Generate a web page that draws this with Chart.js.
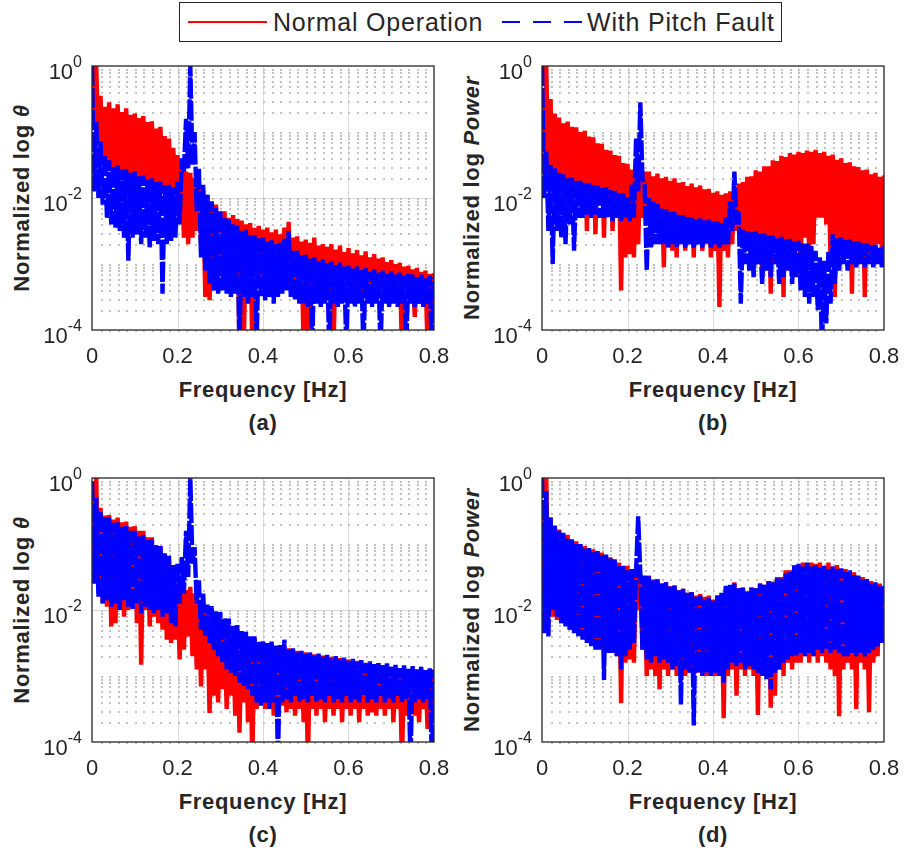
<!DOCTYPE html>
<html>
<head>
<meta charset="utf-8">
<title>Normalized spectra - normal vs pitch fault</title>
<script src="https://cdn.jsdelivr.net/npm/chart.js@4.4.1/dist/chart.umd.min.js"></script>
<style>
  body { margin: 0; background: #fff; }
  #fig {
    position: relative; width: 907px; height: 852px; background: #fff; overflow: hidden;
    font-family: "Liberation Sans", Arial, Helvetica, sans-serif; color: #262626;
  }
  #fig canvas { position: absolute; }
  .ylab, .xlab, .sub {
    position: absolute; font-weight: bold; font-size: 22px; line-height: 26px;
    white-space: nowrap; letter-spacing: 0.7px;
  }
  .ylab { transform: translate(-50%, -50%) rotate(-90deg); }
  .xlab, .sub { transform: translate(-50%, -50%); }
  #legendBox {
    position: absolute; left: 179px; top: 2px; width: 601px; height: 38px;
    border: 1.5px solid #262626; background: #fff;
  }
  .legText { position: absolute; top: 8px; font-size: 25px; line-height: 28px; letter-spacing: 0.8px; white-space: nowrap; }
  #legendLines { position: absolute; left: 0; top: 0; }
</style>
</head>
<body>
<div id="fig">
  <div id="legendBox"></div>
  <svg id="legendLines" width="907" height="44">
    <line x1="188" y1="22" x2="267" y2="22" stroke="#ff0000" stroke-width="2"/>
    <line x1="502" y1="22" x2="582" y2="22" stroke="#0000ff" stroke-width="2" stroke-dasharray="18 13"/>
  </svg>
  <div class="legText" style="left:273px">Normal Operation</div>
  <div class="legText" style="left:587px">With Pitch Fault</div>

  <div class="ylab" style="left:22px; top:198px">Normalized log <i>θ</i></div>
  <div class="ylab" style="left:472px; top:198px">Normalized log <i>Power</i></div>
  <div class="ylab" style="left:22px; top:610px">Normalized log <i>θ</i></div>
  <div class="ylab" style="left:472px; top:610px">Normalized log <i>Power</i></div>

  <div class="xlab" style="left:263px; top:390px">Frequency [Hz]</div>
  <div class="xlab" style="left:713px; top:390px">Frequency [Hz]</div>
  <div class="xlab" style="left:263px; top:802px">Frequency [Hz]</div>
  <div class="xlab" style="left:713px; top:802px">Frequency [Hz]</div>

  <div class="sub" style="left:263px; top:423px">(a)</div>
  <div class="sub" style="left:713px; top:423px">(b)</div>
  <div class="sub" style="left:263px; top:835px">(c)</div>
  <div class="sub" style="left:713px; top:835px">(d)</div>
</div>

<script>
// spectra, stored as log10 of the normalized value
// one value per frequency bin, bins are 0.005 Hz apart (0 .. 0.8 Hz)
const freqStep = 0.005;

// (a) normalized theta
const aNormalLog = [
  -0.2,-0.9,0.0,-1.2,-0.45,-1.4,-0.62,-1.5,-0.55,-1.55,-0.64,-1.6,-0.58,-1.62,-0.7,-1.6,-0.64,-1.65,-0.74,-1.7,
  -0.72,-1.7,-0.79,-1.72,-0.76,-1.75,-0.85,-1.75,-0.84,-1.8,-0.95,-1.82,-0.92,-1.85,-1.06,-1.9,-1.1,-1.9,-1.24,-1.95,
  -1.35,-2.1,-1.55,-2.6,-1.6,-2.7,-1.62,-2.6,-1.7,-2.5,-1.75,-2.7,-1.88,-3.5,-1.95,-3.55,-2.08,-3.0,-2.1,-3.1,
  -2.2,-3.1,-2.2,-3.2,-2.3,-3.2,-2.26,-3.3,-2.32,-4.3,-2.34,-4.3,-2.4,-3.3,-2.38,-4.3,-2.45,-3.3,-2.42,-3.35,
  -2.48,-3.3,-2.45,-3.35,-2.52,-3.3,-2.48,-3.4,-2.55,-3.35,-2.45,-3.3,-2.36,-3.4,-2.6,-3.4,-2.58,-3.45,-2.66,-4.3,
  -2.63,-4.3,-2.68,-3.45,-2.6,-3.5,-2.72,-3.45,-2.7,-3.5,-2.74,-3.5,-2.7,-4.3,-2.78,-3.5,-2.72,-3.55,-2.82,-3.5,
  -2.76,-3.55,-2.84,-3.5,-2.79,-3.55,-2.87,-3.5,-2.81,-3.55,-2.9,-3.6,-2.85,-3.55,-2.92,-3.5,-2.9,-3.55,-2.97,-3.6,
  -2.94,-3.55,-3.0,-3.6,-2.98,-4.3,-3.04,-3.6,-3.03,-3.55,-3.08,-3.8,-3.06,-3.6,-3.12,-3.65,-3.1,-4.3,-3.15,-3.6,
  -3.14
];
const aFaultLog = [
  0.0,-1.9,-0.85,-2.0,-1.15,-2.1,-1.35,-2.3,-1.43,-2.4,-1.52,-2.45,-1.5,-2.5,-1.57,-2.6,-1.56,-2.95,-1.62,-2.6,
  -1.6,-2.55,-1.67,-2.7,-1.66,-2.6,-1.72,-2.75,-1.7,-2.65,-1.76,-2.7,-1.75,-3.45,-1.81,-2.7,-1.8,-2.65,-1.84,-2.6,
  -1.75,-2.4,-1.4,-1.6,-0.8,-1.55,0.0,-1.5,-1.0,-2.2,-1.55,-2.9,-1.8,-3.1,-1.95,-3.3,-2.05,-3.4,-2.15,-3.45,
  -2.2,-3.4,-2.3,-3.45,-2.32,-3.5,-2.4,-3.45,-2.42,-4.3,-2.5,-3.5,-2.48,-3.6,-2.56,-3.5,-2.56,-4.3,-2.61,-3.5,
  -2.6,-3.55,-2.66,-3.5,-2.64,-3.6,-2.7,-3.5,-2.68,-3.45,-2.62,-3.4,-2.5,-3.5,-2.8,-3.55,-2.8,-3.6,-2.87,-3.6,
  -2.86,-3.65,-2.92,-4.3,-2.9,-3.6,-2.96,-3.65,-2.93,-3.6,-2.99,-4.3,-2.96,-3.6,-3.02,-3.65,-2.98,-3.6,-3.04,-4.3,
  -3.02,-3.6,-3.07,-3.65,-3.04,-3.6,-3.09,-4.3,-3.06,-3.6,-3.12,-3.65,-3.08,-3.6,-3.13,-4.3,-3.1,-3.6,-3.15,-3.65,
  -3.11,-3.6,-3.16,-3.65,-3.13,-3.6,-3.18,-4.3,-3.15,-3.6,-3.16,-3.65,-3.2,-3.6,-3.16,-3.65,-3.21,-3.6,-3.18,-4.3,
  -3.2
];

// (b) normalized power
const bNormalLog = [
  -0.5,-1.6,0.0,-1.7,-0.5,-1.8,-0.72,-1.85,-0.78,-1.9,-0.87,-1.95,-0.84,-2.0,-0.92,-2.0,-0.93,-2.05,-1.0,-2.1,
  -0.98,-2.5,-1.07,-2.1,-1.08,-2.55,-1.17,-2.1,-1.18,-2.6,-1.27,-2.15,-1.28,-2.5,-1.35,-2.2,-1.36,-3.4,-1.47,-2.9,
  -1.48,-2.85,-1.57,-2.9,-1.5,-2.7,-1.55,-2.3,-1.6,-2.3,-1.6,-2.6,-1.67,-2.5,-1.63,-2.7,-1.7,-3.05,-1.68,-2.6,
  -1.74,-2.8,-1.7,-2.9,-1.77,-2.6,-1.76,-2.8,-1.82,-2.7,-1.78,-2.9,-1.84,-2.6,-1.81,-2.8,-1.87,-2.7,-1.86,-2.9,
  -1.92,-2.8,-1.9,-3.65,-1.95,-2.8,-1.93,-2.9,-1.9,-2.7,-1.85,-2.5,-1.78,-2.6,-1.76,-2.7,-1.68,-2.8,-1.67,-3.1,
  -1.58,-2.7,-1.6,-3.2,-1.52,-2.8,-1.52,-3.45,-1.43,-2.8,-1.44,-2.9,-1.36,-3.5,-1.38,-2.8,-1.32,-2.9,-1.34,-2.7,
  -1.3,-3.2,-1.32,-2.6,-1.28,-2.9,-1.3,-2.7,-1.27,-2.3,-1.32,-2.3,-1.3,-2.4,-1.36,-3.0,-1.34,-3.5,-1.42,-2.8,
  -1.4,-2.9,-1.47,-2.8,-1.46,-3.45,-1.52,-2.9,-1.53,-2.8,-1.58,-3.5,-1.57,-2.9,-1.64,-2.8,-1.62,-2.7,-1.68,-2.8,
  -1.66
];
const bFaultLog = [
  0.0,-2.0,-1.3,-2.5,-1.5,-3.0,-1.55,-2.5,-1.62,-2.6,-1.64,-2.7,-1.7,-2.4,-1.69,-2.8,-1.74,-2.3,-1.74,-2.3,
  -1.78,-2.25,-1.77,-2.3,-1.81,-2.25,-1.81,-2.3,-1.85,-2.3,-1.84,-2.3,-1.88,-2.35,-1.89,-2.3,-1.93,-2.35,-1.93,-2.3,
  -1.98,-2.35,-1.8,-2.3,-1.1,-1.9,-0.55,-1.7,-1.8,-3.1,-2.0,-2.75,-2.06,-2.7,-2.09,-2.7,-2.16,-2.7,-2.17,-2.75,
  -2.21,-2.7,-2.21,-2.75,-2.26,-2.7,-2.26,-2.75,-2.29,-2.7,-2.3,-2.75,-2.32,-2.7,-2.31,-2.75,-2.34,-2.7,-2.33,-2.75,
  -2.36,-2.7,-2.35,-2.75,-2.38,-2.7,-2.3,-2.7,-2.05,-2.5,-1.6,-2.4,-2.2,-3.6,-2.48,-3.0,-2.49,-3.1,-2.52,-3.2,
  -2.51,-3.0,-2.54,-3.3,-2.54,-3.1,-2.57,-3.2,-2.57,-3.0,-2.61,-3.3,-2.59,-3.2,-2.63,-3.1,-2.62,-3.3,-2.66,-3.2,
  -2.65,-3.4,-2.69,-3.5,-2.69,-3.6,-2.73,-3.5,-2.8,-3.7,-2.9,-4.3,-2.95,-3.9,-2.8,-3.6,-2.55,-3.3,-2.61,-3.1,
  -2.6,-3.0,-2.64,-3.1,-2.63,-3.0,-2.66,-3.05,-2.66,-3.0,-2.69,-3.05,-2.69,-3.0,-2.72,-3.05,-2.71,-3.0,-2.74,-3.05,
  -2.73
];

// (c) normalized theta
const cNormalLog = [
  -0.3,-1.2,0.0,-1.7,-0.45,-1.9,-0.57,-1.95,-0.56,-2.25,-0.63,-2.2,-0.6,-1.9,-0.67,-2.1,-0.66,-2.0,-0.74,-1.95,
  -0.73,-2.2,-0.8,-2.83,-0.8,-2.0,-0.9,-2.25,-0.9,-2.1,-1.02,-2.2,-1.03,-2.3,-1.17,-2.45,-1.23,-2.5,-1.42,-2.45,
  -1.6,-2.75,-1.75,-2.6,-1.7,-2.4,-1.65,-2.7,-1.75,-2.9,-1.87,-3.16,-1.93,-2.9,-2.07,-3.56,-2.08,-3.3,-2.17,-3.4,
  -2.18,-3.2,-2.27,-3.5,-2.26,-3.3,-2.32,-3.6,-2.33,-3.86,-2.4,-3.4,-2.38,-3.7,-2.44,-4.3,-2.43,-3.5,-2.49,-3.4,
  -2.48,-3.5,-2.54,-3.4,-2.52,-3.6,-2.58,-3.5,-2.56,-3.45,-2.62,-3.55,-2.58,-3.5,-2.64,-3.6,-2.62,-3.5,-2.67,-3.7,
  -2.64,-4.3,-2.7,-3.5,-2.67,-3.6,-2.72,-3.5,-2.69,-3.7,-2.74,-3.5,-2.71,-3.6,-2.76,-3.5,-2.73,-3.7,-2.78,-3.5,
  -2.75,-3.6,-2.8,-3.5,-2.77,-3.7,-2.82,-3.5,-2.8,-3.6,-2.85,-3.55,-2.82,-3.6,-2.87,-3.5,-2.84,-3.6,-2.89,-3.5,
  -2.86,-3.7,-2.91,-3.5,-2.88,-4.3,-2.93,-3.6,-2.9,-3.5,-2.95,-3.6,-2.91,-3.7,-2.96,-3.5,-2.92,-3.8,-2.97,-3.6,
  -2.94
];
const cFaultLog = [
  -0.05,-1.6,-0.3,-1.8,-0.5,-1.9,-0.6,-1.85,-0.6,-1.95,-0.68,-1.9,-0.67,-2.0,-0.74,-1.85,-0.73,-1.95,-0.8,-2.0,
  -0.8,-1.9,-0.87,-2.05,-0.86,-1.95,-0.94,-2.0,-0.93,-2.05,-1.02,-2.0,-1.03,-2.1,-1.14,-2.05,-1.18,-2.2,-1.32,-2.25,
  -1.3,-1.9,-1.2,-1.75,-0.8,-1.5,0.0,-1.3,-1.05,-1.9,-1.55,-2.3,-1.75,-2.4,-1.92,-2.5,-1.94,-2.6,-2.02,-2.7,
  -2.03,-2.8,-2.12,-2.9,-2.13,-2.95,-2.24,-3.0,-2.23,-3.1,-2.32,-3.15,-2.33,-3.2,-2.4,-3.3,-2.4,-3.4,-2.47,-3.45,
  -2.48,-3.4,-2.5,-3.5,-2.48,-3.4,-2.54,-4.3,-2.53,-3.4,-2.45,-3.35,-2.6,-3.4,-2.58,-3.3,-2.64,-3.4,-2.62,-3.35,
  -2.67,-3.4,-2.64,-3.3,-2.69,-3.4,-2.66,-3.35,-2.71,-3.4,-2.68,-3.3,-2.73,-3.4,-2.7,-3.35,-2.75,-3.4,-2.72,-3.3,
  -2.77,-3.4,-2.74,-3.35,-2.79,-3.4,-2.76,-3.3,-2.81,-3.4,-2.78,-3.35,-2.82,-3.4,-2.79,-3.3,-2.84,-3.4,-2.81,-3.35,
  -2.86,-3.4,-2.83,-3.3,-2.88,-3.4,-2.84,-3.35,-2.89,-4.3,-2.85,-3.4,-2.9,-3.35,-2.86,-3.4,-2.91,-3.35,-2.88,-4.3,
  -2.9
];

// (d) normalized power
const dNormalLog = [
  -0.5,-1.9,0.0,-2.0,-0.6,-2.1,-0.77,-2.15,-0.78,-2.2,-0.87,-2.2,-0.86,-2.3,-0.97,-2.3,-0.96,-2.35,-1.02,-2.4,
  -1.03,-2.45,-1.1,-2.5,-1.08,-2.5,-1.14,-2.55,-1.13,-2.6,-1.22,-2.6,-1.2,-2.65,-1.27,-2.7,-1.28,-3.41,-1.35,-2.8,
  -1.33,-2.75,-1.42,-2.8,-1.43,-2.0,-1.45,-2.6,-1.5,-3.0,-1.48,-2.9,-1.54,-3.0,-1.53,-3.2,-1.6,-2.9,-1.58,-3.0,
  -1.64,-2.9,-1.63,-3.0,-1.7,-2.9,-1.68,-3.0,-1.74,-2.95,-1.73,-3.0,-1.78,-2.95,-1.76,-2.98,-1.8,-3.0,-1.78,-2.9,
  -1.84,-3.0,-1.78,-2.9,-1.77,-3.64,-1.66,-3.0,-1.64,-2.9,-1.58,-3.3,-1.67,-2.9,-1.66,-3.0,-1.72,-2.9,-1.66,-3.0,
  -1.67,-3.59,-1.6,-2.9,-1.62,-3.0,-1.56,-3.48,-1.57,-3.3,-1.5,-2.9,-1.5,-3.0,-1.4,-2.8,-1.4,-2.9,-1.32,-2.8,
  -1.32,-2.8,-1.28,-2.7,-1.3,-2.8,-1.28,-2.7,-1.3,-2.8,-1.28,-2.7,-1.34,-2.8,-1.28,-2.9,-1.34,-3.0,-1.32,-3.61,
  -1.38,-2.9,-1.38,-2.8,-1.44,-2.9,-1.43,-3.5,-1.52,-2.8,-1.5,-2.9,-1.57,-3.55,-1.56,-2.8,-1.62,-2.7,-1.6,-2.5,
  -1.66
];
const dFaultLog = [
  0.0,-2.35,-0.2,-2.4,-0.6,-2.0,-0.72,-2.1,-0.8,-2.2,-0.83,-2.25,-0.92,-2.3,-0.93,-2.35,-1.0,-2.4,-1.0,-2.45,
  -1.07,-2.5,-1.06,-2.55,-1.12,-2.6,-1.1,-2.6,-1.17,-3.06,-1.16,-2.65,-1.22,-2.65,-1.23,-2.7,-1.32,-2.9,-1.33,-2.7,
  -1.4,-2.6,-1.38,-2.5,-1.42,-0.58,-1.45,-2.6,-1.48,-2.75,-1.48,-2.8,-1.55,-2.7,-1.54,-2.8,-1.6,-2.75,-1.58,-2.8,
  -1.64,-2.9,-1.63,-2.85,-1.7,-3.43,-1.68,-2.9,-1.74,-2.95,-1.73,-3.75,-1.8,-2.95,-1.78,-3.0,-1.84,-2.95,-1.82,-3.0,
  -1.86,-2.95,-1.78,-3.0,-1.74,-3.1,-1.63,-2.9,-1.62,-2.8,-1.6,-2.85,-1.67,-2.8,-1.66,-2.9,-1.72,-2.85,-1.66,-2.9,
  -1.67,-2.95,-1.6,-3.0,-1.62,-3.05,-1.56,-3.2,-1.58,-2.95,-1.52,-2.9,-1.52,-2.8,-1.43,-2.75,-1.42,-2.7,-1.33,-2.7,
  -1.3,-2.65,-1.34,-2.7,-1.28,-2.65,-1.34,-2.7,-1.32,-2.6,-1.36,-2.65,-1.33,-2.6,-1.38,-2.65,-1.34,-2.6,-1.38,-2.65,
  -1.37,-2.7,-1.42,-2.7,-1.4,-2.65,-1.47,-2.7,-1.48,-2.65,-1.54,-2.7,-1.53,-2.65,-1.6,-2.6,-1.58,-2.55,-1.64,-2.5,
  -1.62
];

// axis ticks
const xTickValues = [0, 0.2, 0.4, 0.6, 0.8];
const xTickLabels = ['0', '0.2', '0.4', '0.6', '0.8'];
const xMinorStep = 0.02;
const yTickExponents = [0, -2, -4];       // labelled decades
const yDecades = [-4, -3, -2, -1];        // decades with minor lines
const yMinorMultipliers = [1, 2, 3, 4, 5, 6, 7, 8, 9];

const freqHz = aNormalLog.map((_, i) => Math.round(i * freqStep * 1000) / 1000);

// plot box size and room for tick labels around it
const PLOT_W = 342, PLOT_H = 264;
const PAD_L = 62, PAD_T = 16, PAD_R = 16, PAD_B = 44;
const FONT = '"Liberation Sans", Arial, Helvetica, sans-serif';
const TEXT_COLOR = '#262626';
const LINE_W = 4.4;   // bins are ~2.1px apart, this keeps the noisy bands solid

function toPoints(logVals) {
  return logVals.map((v, i) => ({ x: freqHz[i], y: Math.pow(10, v) }));
}

// matlab style grid, box and tick labels
const matlabAxes = {
  id: 'matlabAxes',
  beforeDatasetsDraw(chart) {
    const { ctx, chartArea: a, scales: { x, y } } = chart;
    ctx.save();

    // major grid, solid
    ctx.lineWidth = 1;
    ctx.strokeStyle = '#dcdcdc';
    ctx.beginPath();
    xTickValues.forEach(v => {
      if (v <= 0 || v >= 0.8) return;
      const px = Math.round(x.getPixelForValue(v)) + 0.5;
      ctx.moveTo(px, a.top);
      ctx.lineTo(px, a.bottom);
    });
    yTickExponents.forEach(e => {
      if (e === 0 || e === -4) return;
      const py = Math.round(y.getPixelForValue(Math.pow(10, e))) + 0.5;
      ctx.moveTo(a.left, py);
      ctx.lineTo(a.right, py);
    });
    ctx.stroke();

    // minor grid: matlab's dotted lines show up as a lattice of dots
    const xs = [];
    for (let k = 1; k * xMinorStep < 0.8 - 1e-9; k++) {
      xs.push(Math.round(x.getPixelForValue(k * xMinorStep)));
    }
    const ys = [];
    yDecades.forEach(d => {
      yMinorMultipliers.forEach(m => {
        ys.push(Math.round(y.getPixelForValue(m * Math.pow(10, d))));
      });
    });
    ctx.fillStyle = '#c2c2c2';
    xs.forEach(px => ys.forEach(py => ctx.fillRect(px, py, 2, 2)));
    ctx.restore();
  },
  afterDatasetsDraw(chart) {
    const { ctx, chartArea: a, scales: { x, y } } = chart;
    ctx.save();
    // box
    ctx.strokeStyle = TEXT_COLOR;
    ctx.lineWidth = 1.3;
    ctx.strokeRect(a.left, a.top, a.right - a.left, a.bottom - a.top);

    ctx.fillStyle = TEXT_COLOR;
    // x tick labels
    ctx.font = '22px ' + FONT;
    ctx.textAlign = 'center';
    ctx.textBaseline = 'middle';
    xTickValues.forEach((v, i) => {
      ctx.fillText(xTickLabels[i], x.getPixelForValue(v), a.bottom + 27);
    });

    // y tick labels 10^e
    ctx.textAlign = 'right';
    yTickExponents.forEach(e => {
      const py = y.getPixelForValue(Math.pow(10, e));
      const expStr = String(e);
      ctx.font = '16px ' + FONT;
      const ew = ctx.measureText(expStr).width;
      ctx.fillText(expStr, a.left - 10, py - 3);
      ctx.font = '22px ' + FONT;
      ctx.fillText('10', a.left - 10 - ew, py + 7);
    });
    ctx.restore();
  }
};

function makePanel(plotLeft, plotTop, normalLog, faultLog) {
  const canvas = document.createElement('canvas');
  canvas.width = PLOT_W + PAD_L + PAD_R;
  canvas.height = PLOT_H + PAD_T + PAD_B;
  canvas.style.left = (plotLeft - PAD_L) + 'px';
  canvas.style.top = (plotTop - PAD_T) + 'px';
  document.getElementById('fig').appendChild(canvas);

  return new Chart(canvas, {
    type: 'line',
    data: {
      datasets: [
        {
          label: 'With Pitch Fault',
          data: toPoints(faultLog),
          borderColor: '#0000ff',
          borderWidth: LINE_W,
          borderDash: [20, 2],
          pointRadius: 0,
          order: 0
        },
        {
          label: 'Normal Operation',
          data: toPoints(normalLog),
          borderColor: '#ff0000',
          borderWidth: LINE_W,
          pointRadius: 0,
          order: 1
        }
      ]
    },
    options: {
      responsive: false,
      animation: false,
      devicePixelRatio: 1,
      layout: { padding: { top: PAD_T, right: PAD_R, left: 0, bottom: 0 } },
      elements: { line: { tension: 0, borderJoinStyle: 'bevel' } },
      plugins: { legend: { display: false }, tooltip: { enabled: false } },
      scales: {
        x: {
          type: 'linear', min: 0, max: 0.8,
          ticks: { display: false },
          grid: { display: false },
          border: { display: false },
          afterFit: s => { s.height = PAD_B; }
        },
        y: {
          type: 'logarithmic', min: 1e-4, max: 1,
          ticks: { display: false },
          grid: { display: false },
          border: { display: false },
          afterFit: s => { s.width = PAD_L; }
        }
      }
    },
    plugins: [matlabAxes]
  });
}

makePanel(92, 66, aNormalLog, aFaultLog);
makePanel(542, 66, bNormalLog, bFaultLog);
makePanel(92, 478, cNormalLog, cFaultLog);
makePanel(542, 478, dNormalLog, dFaultLog);
</script>
</body>
</html>
